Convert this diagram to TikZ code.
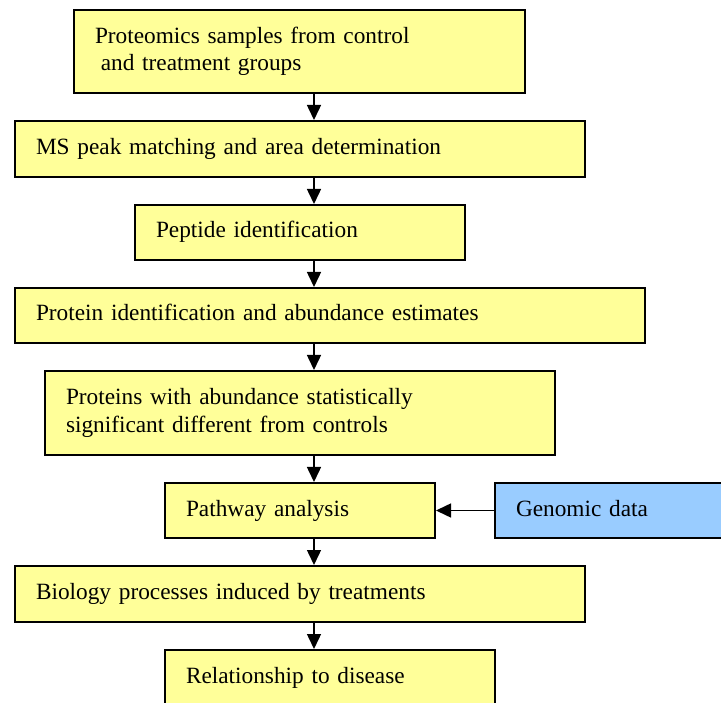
\documentclass[tikz,border=0pt]{standalone}
\usepackage{fontspec}
\setmainfont{Liberation Serif}
\usetikzlibrary{arrows.meta}
\definecolor{boxyellow}{HTML}{FFFF99}
\definecolor{boxblue}{HTML}{99CCFF}
\begin{document}
\begin{tikzpicture}[x=1pt,y=-1pt,
  box/.style={draw=black, line width=2pt, fill=boxyellow, anchor=north west,
    inner xsep=21pt, inner ysep=0pt, align=left,
    font=\fontsize{23.3}{27.6}\selectfont},
  oneline/.style={text height=16pt, text depth=5pt},
  bluebox/.style={box, fill=boxblue},
  arr/.style={line width=1.5pt, -{Triangle[length=15pt,width=14pt]}}]
\useasboundingbox (0,0) rectangle (721,703);
\clip (0,0) rectangle (721,703);
\coordinate (ax) at (314,0);
\node[box, text width=409pt, minimum height=83pt] (b1) at (73,9)
  {Proteomics samples from control\\\hspace*{0.25em}and treatment groups};
\node[box, oneline, text width=528pt, minimum height=56pt] (b2) at (14,120)
  {MS peak matching and area determination};
\node[box, oneline, text width=288pt, minimum height=55pt] (b3) at (134,204)
  {Peptide identification};
\node[box, oneline, text width=588pt, minimum height=55pt] (b4) at (14,287)
  {Protein identification and abundance estimates};
\node[box, text width=468pt, minimum height=84pt] (b5) at (44,370)
  {Proteins with abundance statistically\\significant different from controls};
\node[box, oneline, text width=228pt, minimum height=55pt] (b6) at (164,482)
  {Pathway analysis};
\node[bluebox, oneline, text width=194pt, minimum height=55pt] (gen) at (494,482)
  {Genomic data};
\node[box, oneline, text width=528pt, minimum height=56pt] (b7) at (14,565)
  {Biology processes induced by treatments};
\node[box, oneline, text width=288pt, minimum height=56pt] (b8) at (164,649)
  {Relationship to disease};
\draw[arr] (b1.south -| ax) -- (b2.north -| ax);
\draw[arr] (b2.south -| ax) -- (b3.north -| ax);
\draw[arr] (b3.south -| ax) -- (b4.north -| ax);
\draw[arr] (b4.south -| ax) -- (b5.north -| ax);
\draw[arr] (b5.south -| ax) -- (b6.north -| ax);
\draw[arr] (b6.south -| ax) -- (b7.north -| ax);
\draw[arr] (b7.south -| ax) -- (b8.north -| ax);
\draw[arr] (gen.west) -- (b6.east);
\end{tikzpicture}
\end{document}
